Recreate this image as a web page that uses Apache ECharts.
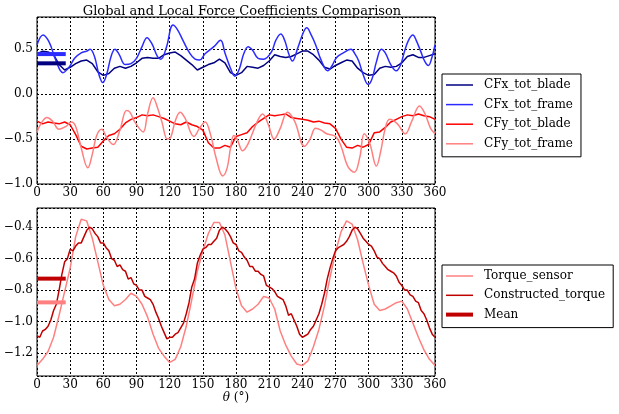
<!DOCTYPE html>
<html>
<head>
<meta charset="utf-8">
<script src="https://cdn.jsdelivr.net/npm/echarts@6/dist/echarts.min.js"></script>
<style>
html, body { margin: 0; padding: 0; background: #fff; }
#chart { width: 619px; height: 414px; }
</style>
</head>
<body>
<div id="chart"></div>
<script>
// angles (deg) for the 5-degree sampled series
var angles5 = [0,5,10,15,20,25,30,35,40,45,50,55,60,65,70,75,80,85,90,95,100,105,110,115,120,125,130,135,140,145,150,155,160,165,170,175,180,185,190,195,200,205,210,215,220,225,230,235,240,245,250,255,260,265,270,275,280,285,290,295,300,305,310,315,320,325,330,335,340,345,350,355,360];

// angles (deg) for the 2.5-degree sampled series
var angles25 = [
    0,2.5,5,7.5,10,12.5,15,17.5,20,22.5,
    25,27.5,30,32.5,35,37.5,40,42.5,45,47.5,
    50,52.5,55,57.5,60,62.5,65,67.5,70,72.5,
    75,77.5,80,82.5,85,87.5,90,92.5,95,97.5,
    100,102.5,105,107.5,110,112.5,115,117.5,120,122.5,
    125,127.5,130,132.5,135,137.5,140,142.5,145,147.5,
    150,152.5,155,157.5,160,162.5,165,167.5,170,172.5,
    175,177.5,180,182.5,185,187.5,190,192.5,195,197.5,
    200,202.5,205,207.5,210,212.5,215,217.5,220,222.5,
    225,227.5,230,232.5,235,237.5,240,242.5,245,247.5,
    250,252.5,255,257.5,260,262.5,265,267.5,270,272.5,
    275,277.5,280,282.5,285,287.5,290,292.5,295,297.5,
    300,302.5,305,307.5,310,312.5,315,317.5,320,322.5,
    325,327.5,330,332.5,335,337.5,340,342.5,345,347.5,
    350,352.5,355,357.5,360
];

var cfxBlade = [0.45,0.48,0.47,0.44,0.33,0.27,0.30,0.34,0.37,0.38,0.34,0.25,0.21,0.23,0.29,0.31,0.29,0.31,0.35,0.40,0.41,0.40,0.40,0.44,0.46,0.47,0.43,0.38,0.33,0.27,0.30,0.33,0.35,0.39,0.35,0.24,0.21,0.24,0.31,0.30,0.29,0.32,0.37,0.44,0.42,0.41,0.42,0.45,0.48,0.48,0.44,0.38,0.30,0.28,0.32,0.35,0.38,0.37,0.29,0.24,0.21,0.22,0.29,0.31,0.30,0.31,0.35,0.42,0.44,0.41,0.41,0.43,0.45];

var cfyBlade = [-0.30,-0.33,-0.31,-0.32,-0.33,-0.31,-0.34,-0.45,-0.58,-0.61,-0.60,-0.59,-0.52,-0.46,-0.44,-0.39,-0.32,-0.28,-0.26,-0.23,-0.24,-0.23,-0.25,-0.27,-0.30,-0.33,-0.34,-0.31,-0.34,-0.36,-0.40,-0.54,-0.60,-0.60,-0.57,-0.59,-0.47,-0.45,-0.43,-0.36,-0.31,-0.27,-0.23,-0.24,-0.23,-0.22,-0.26,-0.27,-0.28,-0.29,-0.31,-0.30,-0.32,-0.33,-0.38,-0.50,-0.59,-0.60,-0.57,-0.59,-0.56,-0.43,-0.42,-0.37,-0.31,-0.28,-0.25,-0.23,-0.24,-0.22,-0.24,-0.25,-0.28];

var torqueSensor = [-1.28,-1.24,-1.19,-1.10,-0.96,-0.81,-0.66,-0.46,-0.35,-0.36,-0.47,-0.62,-0.77,-0.86,-0.90,-0.89,-0.86,-0.82,-0.84,-0.89,-0.97,-1.08,-1.17,-1.22,-1.26,-1.24,-1.16,-1.03,-0.86,-0.68,-0.55,-0.44,-0.37,-0.37,-0.45,-0.62,-0.79,-0.90,-0.94,-0.92,-0.89,-0.84,-0.85,-0.92,-1.06,-1.15,-1.22,-1.27,-1.28,-1.25,-1.16,-1.05,-0.90,-0.72,-0.56,-0.43,-0.36,-0.38,-0.48,-0.63,-0.77,-0.89,-0.93,-0.92,-0.90,-0.88,-0.87,-0.92,-1.01,-1.10,-1.18,-1.24,-1.28];

var constructedTorque = [
    -1.09,-1.10,-1.06,-1.05,-1.03,-0.99,-0.93,-0.89,-0.80,-0.70,
    -0.62,-0.60,-0.54,-0.55,-0.52,-0.50,-0.50,-0.46,-0.42,-0.40,
    -0.41,-0.44,-0.46,-0.50,-0.50,-0.53,-0.55,-0.60,-0.61,-0.65,
    -0.64,-0.67,-0.68,-0.73,-0.72,-0.76,-0.77,-0.80,-0.80,-0.84,
    -0.85,-0.86,-0.89,-0.94,-0.98,-1.03,-1.07,-1.11,-1.10,-1.10,
    -1.08,-1.07,-1.04,-1.01,-0.95,-0.88,-0.78,-0.73,-0.63,-0.58,
    -0.54,-0.53,-0.51,-0.51,-0.49,-0.47,-0.42,-0.40,-0.41,-0.43,
    -0.46,-0.50,-0.51,-0.55,-0.56,-0.59,-0.61,-0.65,-0.65,-0.68,
    -0.68,-0.70,-0.71,-0.77,-0.78,-0.79,-0.81,-0.84,-0.85,-0.86,
    -0.90,-0.96,-0.95,-0.99,-1.03,-1.08,-1.10,-1.09,-1.08,-1.05,
    -1.03,-0.99,-0.95,-0.89,-0.82,-0.73,-0.66,-0.60,-0.55,-0.53,
    -0.52,-0.51,-0.49,-0.46,-0.42,-0.40,-0.41,-0.44,-0.47,-0.49,
    -0.51,-0.52,-0.55,-0.59,-0.60,-0.63,-0.65,-0.67,-0.68,-0.69,
    -0.71,-0.75,-0.77,-0.80,-0.80,-0.83,-0.84,-0.87,-0.88,-0.93,
    -0.95,-0.99,-1.04,-1.08,-1.10
];

// smooth frame curves, sampled at their turning points
var cfxFrameAngles = [0,5.5,11,17,23.5,29,34,40,45,48,52,56,59.5,63,67,70.5,74,80,85,90,95,99.5,104,109,112,117,123,127,132,138,143,147,152,160,166,170,175,179,183,187,191,195,200,205,212,216,220.5,224,228,231,236,241,244,248,252,257,263,267,271,277,284,288,291,295,299.5,303,307,311.5,315,320,325,329,332,336,340,343,347,351,354,357,360];
var cfxFrame = [0.55,0.66,0.58,0.38,0.24,0.30,0.40,0.46,0.48,0.50,0.42,0.22,0.13,0.22,0.42,0.50,0.45,0.33,0.34,0.40,0.53,0.63,0.56,0.42,0.39,0.52,0.77,0.72,0.60,0.46,0.39,0.38,0.45,0.53,0.60,0.46,0.29,0.20,0.28,0.45,0.53,0.49,0.40,0.39,0.47,0.60,0.67,0.60,0.44,0.37,0.52,0.69,0.74,0.66,0.55,0.38,0.26,0.32,0.41,0.46,0.50,0.44,0.37,0.22,0.11,0.17,0.36,0.50,0.46,0.33,0.26,0.33,0.46,0.60,0.66,0.60,0.48,0.36,0.32,0.40,0.55];

var cfyFrameAngles = [0,4,9,14,20,26,31,35,40,46,50,54,58.5,63,69,75,81,84,89,96,100,105,109,113,118,121,125,129.5,134,142,147,152,157,162,168,172,175,178,181,186,191,199,204,209,214.5,220,226.5,233,242,247,252,257,262,270,275,281,287,292,296,301,307,311,315,319,326,333,339,346,351,356,360];
var cfyFrame = [-0.42,-0.32,-0.26,-0.30,-0.39,-0.36,-0.31,-0.36,-0.60,-0.82,-0.67,-0.46,-0.39,-0.48,-0.56,-0.40,-0.18,-0.20,-0.32,-0.42,-0.22,-0.04,-0.15,-0.31,-0.50,-0.48,-0.30,-0.20,-0.27,-0.47,-0.38,-0.31,-0.45,-0.71,-0.91,-0.82,-0.60,-0.46,-0.50,-0.63,-0.55,-0.31,-0.22,-0.33,-0.50,-0.38,-0.20,-0.30,-0.58,-0.50,-0.38,-0.40,-0.44,-0.47,-0.58,-0.80,-0.87,-0.70,-0.44,-0.55,-0.80,-0.63,-0.38,-0.28,-0.33,-0.44,-0.30,-0.13,-0.22,-0.38,-0.44];

// mean markers: [x start, x end] and levels
var meanSpan = [0, 26];
var meanCfxBlade = 0.344;
var meanCfxFrame = 0.447;
var meanConstructed = -0.727;
var meanSensor = -0.878;

var xTicks = [0,30,60,90,120,150,180,210,240,270,300,330,360];

function zip(xs, ys) {
    return xs.map(function (x, i) { return [x, ys[i]]; });
}
function flat(v) {
    return [[meanSpan[0], v], [meanSpan[1], v]];
}
function minus(v) {
    return v.toFixed(1).replace('-', '\u2212');
}

var FONT = 'DejaVu Serif';
// legend icons: plain horizontal strokes
var THIN = 'path://M0,0 L27,0 L27,1.5 L0,1.5 Z';
var THICK = 'path://M0,0 L27,0 L27,4 L0,4 Z';

var chart = echarts.init(document.getElementById('chart'));

function xAxisCfg(idx) {
    return {
        type: 'value', gridIndex: idx, min: xTicks[0], max: xTicks[xTicks.length - 1], interval: 30,
        axisLine: { show: false }, axisTick: { show: false },
        axisLabel: { color: '#000', fontFamily: FONT, fontSize: 12, margin: 3 },
        splitLine: { show: true, lineStyle: { color: '#000', type: [2, 2], width: 1 } }
    };
}

var lineBase = { type: 'line', symbol: 'none', showSymbol: false, animation: false };

function line(name, data, color, width, ax, extra) {
    var s = Object.assign({}, lineBase, {
        name: name, data: data, xAxisIndex: ax, yAxisIndex: ax,
        lineStyle: { color: color, width: width }, itemStyle: { color: color }
    });
    return Object.assign(s, extra || {});
}

function legendBox(names, icons, top, gap, pad) {
    return {
        data: names.map(function (n, i) { return { name: n, icon: icons[i] }; }),
        orient: 'vertical', left: 442, top: top,
        backgroundColor: '#fff', borderColor: '#000', borderWidth: 1, borderRadius: 0,
        padding: pad, itemGap: gap, itemWidth: 27, itemHeight: 14,
        textStyle: { fontFamily: FONT, fontSize: 12, lineHeight: 14, color: '#000', padding: [0, 0, 0, 6] }
    };
}

var option = {
    backgroundColor: '#fff',
    animation: false,
    title: {
        text: 'Global and Local Force Coefficients Comparison',
        left: 237, top: 0, textAlign: 'center',
        textStyle: { fontFamily: FONT, fontSize: 13, fontWeight: 'normal', color: '#000' }
    },
    grid: [
        { left: 37, top: 17, width: 398, height: 167, show: true, borderColor: '#000', borderWidth: 1 },
        { left: 37, top: 208, width: 398, height: 168, show: true, borderColor: '#000', borderWidth: 1 }
    ],
    xAxis: [
        xAxisCfg(0),
        Object.assign(xAxisCfg(1), {
            name: '{i|θ} (°)', nameLocation: 'middle', nameGap: 15,
            nameTextStyle: { color: '#000', fontFamily: FONT, fontSize: 12,
                rich: { i: { fontStyle: 'italic', fontFamily: FONT, fontSize: 12, color: '#000' } } }
        })
    ],
    yAxis: [
        {
            type: 'value', gridIndex: 0, min: -1.0, max: 0.86, splitNumber: 4,
            axisLine: { show: false }, axisTick: { show: false },
            axisLabel: { color: '#000', fontFamily: FONT, fontSize: 12, margin: 4, showMaxLabel: false, formatter: minus },
            splitLine: { show: true, lineStyle: { color: '#000', type: [2, 2], width: 1 } }
        },
        {
            type: 'value', gridIndex: 1, min: -1.346, max: -0.278, splitNumber: 5,
            axisLine: { show: false }, axisTick: { show: false },
            axisLabel: { color: '#000', fontFamily: FONT, fontSize: 12, margin: 4, showMinLabel: false, showMaxLabel: false, formatter: minus },
            splitLine: { show: true, lineStyle: { color: '#000', type: [2, 2], width: 1 } }
        }
    ],
    legend: [
        legendBox(['CFx_tot_blade', 'CFx_tot_frame', 'CFy_tot_blade', 'CFy_tot_frame'],
            [THIN, THIN, THIN, THIN], 74, 5.6, [4, 8, 6, 4]),
        legendBox(['Torque_sensor', 'Constructed_torque', 'Mean'],
            [THIN, THIN, THICK], 265, 5.3, [4, 8, 6, 4])
    ],
    series: [
        line('CFx_tot_blade', zip(angles5, cfxBlade), '#000080', 1.5, 0),
        line('CFx_tot_frame', zip(cfxFrameAngles, cfxFrame), '#2b2bff', 1.5, 0, { smooth: 0.4 }),
        line('CFy_tot_blade', zip(angles5, cfyBlade), '#ff0000', 1.5, 0),
        line('CFy_tot_frame', zip(cfyFrameAngles, cfyFrame), '#ff8080', 1.5, 0, { smooth: 0.4 }),
        line('mean_cfx_blade', flat(meanCfxBlade), '#000080', 4, 0),
        line('mean_cfx_frame', flat(meanCfxFrame), '#2b2bff', 4, 0),
        line('Torque_sensor', zip(angles5, torqueSensor), '#ff8080', 1.5, 1),
        line('Constructed_torque', zip(angles25, constructedTorque), '#c00000', 1.5, 1),
        line('Mean', flat(meanConstructed), '#c00000', 4, 1),
        line('mean_sensor', flat(meanSensor), '#ff8080', 4, 1)
    ]
};

chart.setOption(option);
window.addEventListener('resize', function () { chart.resize(); }, false);
</script>
</body>
</html>
